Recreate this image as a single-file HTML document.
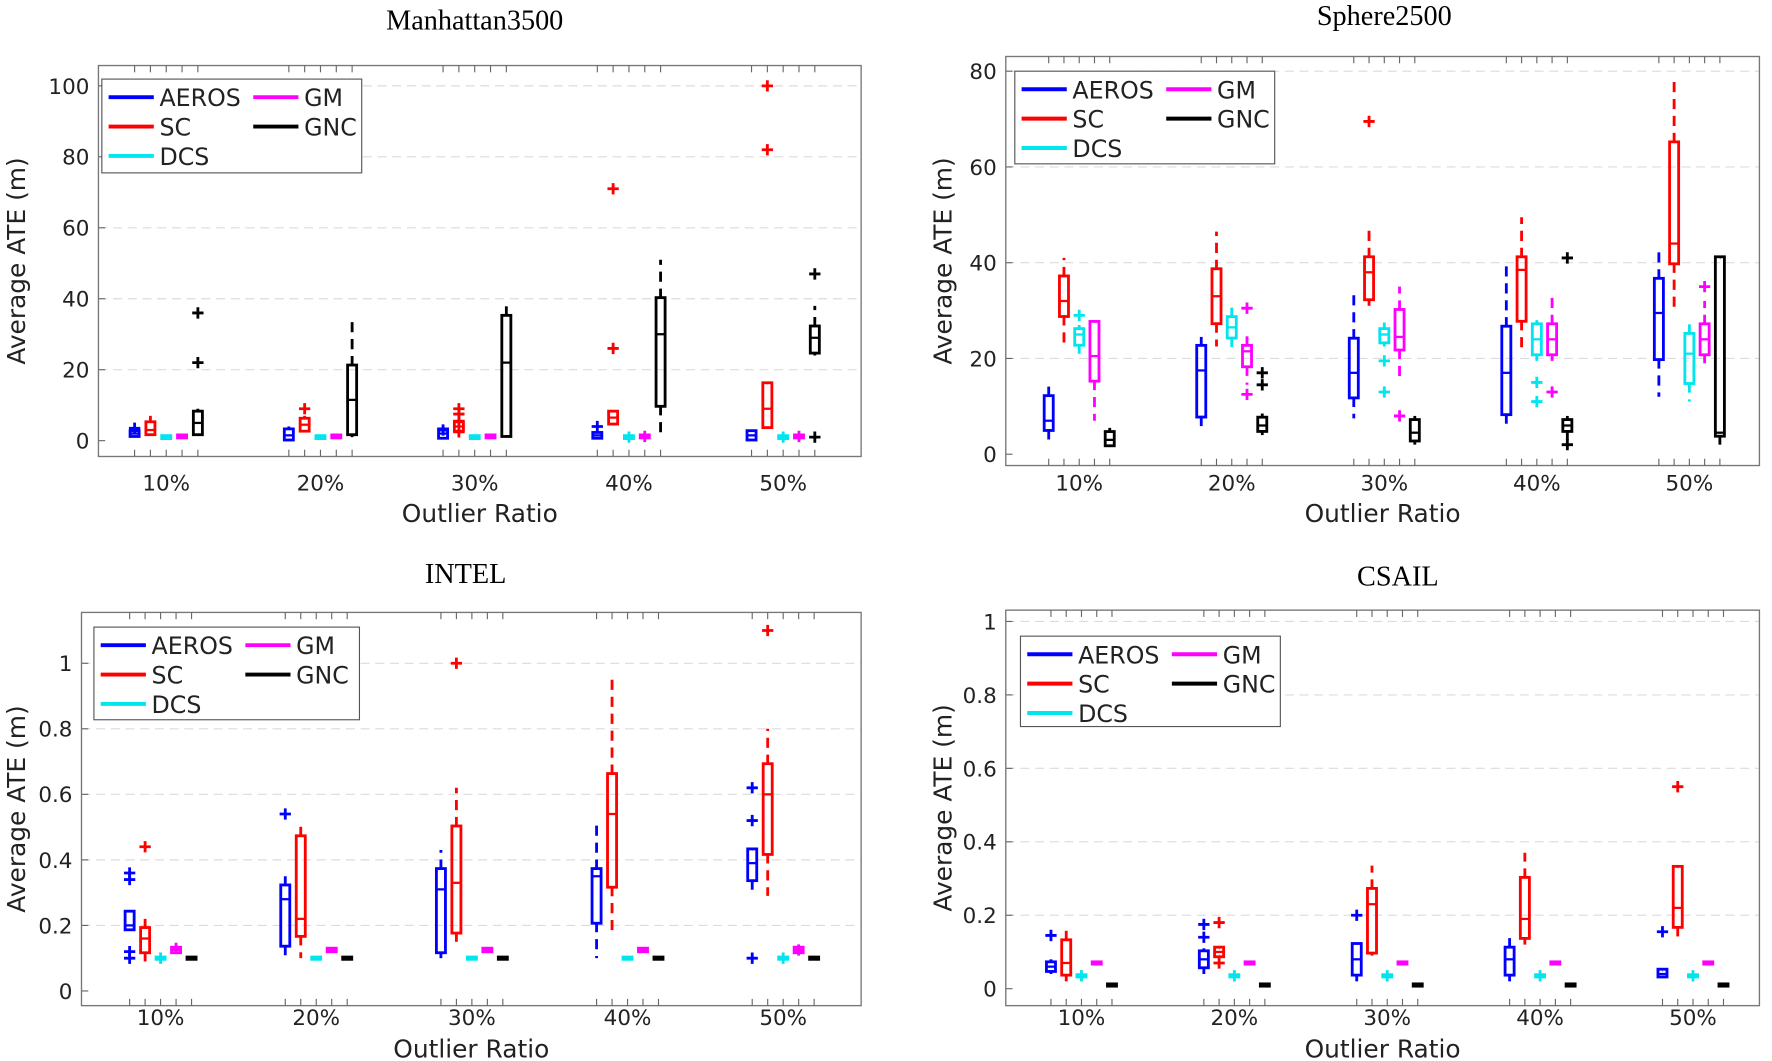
<!DOCTYPE html>
<html><head><meta charset="utf-8"><style>
html,body{margin:0;padding:0;background:#fff;}
svg{display:block;}
text{font-family:"DejaVu Sans","Liberation Sans",sans-serif;fill:#222;}
.ttl{font-family:"Liberation Serif",serif;fill:#000;}
</style></head><body>
<svg id="fig" width="1772" height="1061" viewBox="0 0 1568 939" xmlns="http://www.w3.org/2000/svg"></svg>
<script>
const categories = ["10%","20%","30%","40%","50%"];
const methods = ["AEROS","SC","DCS","GM","GNC"];
const colors = ["#0000ff","#ff0000","#00e5ee","#ff00ff","#000000"];

// Manhattan3500 [ratio][method]
const manLo  = [[1,1.5,0.8,1,1.5],[0,2.5,0.8,1,1],[0.8,2.5,0.8,1,1],[0.8,4.5,0.8,1,1],[0,3.5,0.8,1,24]];
const manQ1  = [[1.5,2,0.9,1.1,2],[0.5,3,0.9,1.1,2],[1,3,0.9,1.1,1.5],[1,5,0.9,1.1,10],[0.5,4,0.9,1.1,25]];
const manMed = [[2,3,1,1.2,5],[1.5,4.5,1,1.2,11.5],[2,4,1,1.2,22],[1.5,6.5,1,1.2,30],[1.5,9,1,1.2,29]];
const manQ3  = [[2.5,5,1.1,1.3,8],[3,6,1.1,1.3,21],[3,5,1.1,1.3,35],[2,8,1.1,1.3,40],[2.5,16,1.1,1.3,32]];
const manHi  = [[3,7,1.2,1.4,9],[4,7,1.2,1.4,35],[3.5,6,1.2,1.4,38.5],[2.5,8.5,1.2,1.4,51],[3,16,1.2,1.4,38]];
const manOut = [[[3.5],[],[],[],[36,22]],[[],[9],[],[],[]],[[3],[9,7.5,5.5,2.5],[],[],[]],[[4],[71,26],[1],[1.2],[]],[[],[100,82],[1],[1.2],[47,1]]];

// Sphere2500
const sphLo  = [[3,22.5,21,7,1.5],[5.5,22.5,21,14.5,4],[7.5,31,22.5,15.5,2],[5,21,19.5,19.5,3],[12,30,11,19,2]];
const sphQ1  = [[5.2,29,23,15.5,2],[8,27.5,24.5,18.5,5],[12,32.5,23.5,22,3],[8.5,28,21,21,5],[20,40,15,21,4]];
const sphMed = [[7,32,25,20.5,3],[17.5,33,26.5,21.5,6],[17,38,25,24.5,4.5],[17,38.5,24,24,6],[29.5,44,21,24,4.5]];
const sphQ3  = [[12,37,26,27.5,4.5],[22.5,38.5,28.5,22.5,7.5],[24,41,26,30,7],[26.5,41,27,27,7],[36.5,65,25,27,41]];
const sphHi  = [[15,41,27,28,5.5],[24.5,46.5,31.5,25.5,8.5],[34.5,47.5,27.5,35,8],[40.5,49.5,28,33,8],[43.5,79,28,32,41]];
const sphOut = [[[],[],[29],[],[]],[[],[],[],[30.5,12.5],[17,14.5]],[[],[69.5],[19.5,13],[8],[]],[[],[],[15,11],[13],[41,2]],[[],[],[],[35],[]]];

// INTEL
const intLo  = [[0.19,0.09,0.1,0.12,0.1],[0.1,0.1,0.1,0.123,0.1],[0.1,0.15,0.1,0.123,0.1],[0.1,0.18,0.1,0.123,0.1],[0.3,0.29,0.1,0.12,0.1]];
const intQ1  = [[0.19,0.12,0.1,0.12,0.1],[0.14,0.17,0.1,0.123,0.1],[0.12,0.18,0.1,0.123,0.1],[0.21,0.32,0.1,0.123,0.1],[0.34,0.42,0.1,0.12,0.1]];
const intMed = [[0.2,0.16,0.1,0.125,0.1],[0.28,0.22,0.1,0.125,0.1],[0.31,0.33,0.1,0.125,0.1],[0.35,0.54,0.1,0.125,0.1],[0.39,0.6,0.1,0.125,0.1]];
const intQ3  = [[0.24,0.19,0.1,0.13,0.1],[0.32,0.47,0.1,0.127,0.1],[0.37,0.5,0.1,0.127,0.1],[0.37,0.66,0.1,0.127,0.1],[0.43,0.69,0.1,0.13,0.1]];
const intHi  = [[0.24,0.22,0.1,0.13,0.1],[0.35,0.52,0.1,0.127,0.1],[0.43,0.62,0.1,0.127,0.1],[0.51,0.97,0.1,0.127,0.1],[0.43,0.8,0.1,0.13,0.1]];
const intOut = [[[0.36,0.34,0.12,0.1],[0.44],[0.1],[0.13],[]],[[0.54],[],[],[],[]],[[],[1.0],[],[],[]],[[],[],[],[],[]],[[0.62,0.52,0.1],[1.1],[0.1],[0.125],[]]];

// CSAIL
const csaLo  = [[0.04,0.02,0.035,0.07,0.01],[0.04,0.09,0.035,0.07,0.01],[0.02,0.09,0.035,0.07,0.01],[0.02,0.12,0.035,0.07,0.01],[0.03,0.14,0.035,0.07,0.01]];
const csaQ1  = [[0.05,0.04,0.035,0.07,0.01],[0.06,0.09,0.035,0.07,0.01],[0.04,0.1,0.035,0.07,0.01],[0.04,0.14,0.035,0.07,0.01],[0.035,0.17,0.035,0.07,0.01]];
const csaMed = [[0.06,0.07,0.035,0.07,0.01],[0.08,0.1,0.035,0.07,0.01],[0.08,0.23,0.035,0.07,0.01],[0.08,0.19,0.035,0.07,0.01],[0.04,0.22,0.035,0.07,0.01]];
const csaQ3  = [[0.07,0.13,0.035,0.07,0.01],[0.1,0.11,0.035,0.07,0.01],[0.12,0.27,0.035,0.07,0.01],[0.11,0.3,0.035,0.07,0.01],[0.05,0.33,0.035,0.07,0.01]];
const csaHi  = [[0.08,0.165,0.035,0.07,0.01],[0.11,0.11,0.035,0.07,0.01],[0.125,0.335,0.035,0.07,0.01],[0.145,0.37,0.035,0.07,0.01],[0.05,0.33,0.035,0.07,0.01]];
const csaOut = [[[0.145],[],[0.035],[],[]],[[0.175,0.14],[0.18,0.07],[0.035],[],[]],[[0.2],[],[0.035],[],[]],[[],[],[0.035],[],[]],[[0.155],[0.55],[0.035],[],[]]];

const manTicks = [0,20,40,60,80,100];
const sphTicks = [0,20,40,60,80];
const intTicks = [0,0.2,0.4,0.6,0.8,1];
const csaTicks = [0,0.2,0.4,0.6,0.8,1];

const panels = [
 {name:"manhattan3500",title:"Manhattan3500",tx:420,ty:26,L:87,R:762,T:58,B:404,y0:390,yMax:100,yMaxPx:76,c0:147,cs:136.5,off:14,
  lo:manLo,q1:manQ1,med:manMed,q3:manQ3,hi:manHi,out:manOut,ticks:manTicks,lg:{x:90,y:70,w:230,h:83},ylx:22,xly:434,xt:462},
 {name:"sphere2500",title:"Sphere2500",tx:1225,ty:22,L:890,R:1557,T:50,B:412,y0:402,yMax:80,yMaxPx:63,c0:955,cs:135,off:13.5,
  lo:sphLo,q1:sphQ1,med:sphMed,q3:sphQ3,hi:sphHi,out:sphOut,ticks:sphTicks,lg:{x:898,y:63,w:230,h:82},ylx:842,xly:434,xt:462},
 {name:"intel",title:"INTEL",tx:412,ty:516,L:72,R:762,T:542,B:890,y0:877,yMax:1,yMaxPx:587,c0:142,cs:137.75,off:13.7,
  lo:intLo,q1:intQ1,med:intMed,q3:intQ3,hi:intHi,out:intOut,ticks:intTicks,lg:{x:83,y:555,w:235,h:82},ylx:22,xly:907,xt:936},
 {name:"csail",title:"CSAIL",tx:1237,ty:518,L:890,R:1557,T:540,B:890,y0:875,yMax:1,yMaxPx:550,c0:957,cs:135.3,off:13.5,
  lo:csaLo,q1:csaQ1,med:csaMed,q3:csaQ3,hi:csaHi,out:csaOut,ticks:csaTicks,lg:{x:903,y:563,w:230,h:80},ylx:842,xly:907,xt:936}
];

const NS="http://www.w3.org/2000/svg";
const svg=document.getElementById("fig");
function mk(tag,attrs,parent){const e=document.createElementNS(NS,tag);for(const k in attrs)e.setAttribute(k,attrs[k]);(parent||svg).appendChild(e);return e;}

panels.forEach(p=>{
  const g=mk("g",{});
  
  
  const yS=v=>p.y0-(v/p.yMax)*(p.y0-p.yMaxPx);
  const xS=(ci,mi)=>p.c0+ci*p.cs+(mi-2)*p.off;
  const t=mk("text",{x:p.tx,y:p.ty,"text-anchor":"middle","font-size":25,class:"ttl"},g);t.textContent=p.title;
  
  
  p.ticks.forEach(v=>{
    const y=yS(v);
    if(v!==0){const gl=mk("line",{x1:p.L,x2:p.R,y1:y,y2:y,stroke:"#dcdcdc","stroke-width":1,"stroke-dasharray":"8,5"},g);
      }
    mk("line",{x1:p.L,x2:p.L+6,y1:y,y2:y,stroke:"#666","stroke-width":1},g);
    const tl=mk("text",{x:p.L-8,y:y+7,"text-anchor":"end","font-size":19},g);tl.textContent=String(v);
    
  });
  const fr=mk("rect",{x:p.L,y:p.T,width:p.R-p.L,height:p.B-p.T,fill:"none",stroke:"#777","stroke-width":1.2},g);
  
  categories.forEach((c,ci)=>{
    for(let mi=0;mi<5;mi++){const x=xS(ci,mi);mk("line",{x1:x,x2:x,y1:p.T,y2:p.T+6,stroke:"#666","stroke-width":1},g);mk("line",{x1:x,x2:x,y1:p.B,y2:p.B-6,stroke:"#666","stroke-width":1},g);}
    const xl=mk("text",{x:p.c0+ci*p.cs,y:p.xly,"text-anchor":"middle","font-size":19},g);xl.textContent=c;
    
  });
  const xt=mk("text",{x:(p.L+p.R)/2,y:p.xt,"text-anchor":"middle","font-size":22},g);xt.textContent="Outlier Ratio";
  
  const yt=mk("text",{x:0,y:0,"text-anchor":"middle","font-size":22,transform:`translate(${p.ylx},${(p.T+p.B)/2}) rotate(-90)`},g);yt.textContent="Average ATE (m)";
  
  categories.forEach((c,ci)=>{
    methods.forEach((m,mi)=>{
      const x=xS(ci,mi),col=colors[mi],hw=4;
      const bg=mk("g",{},g);
      
      
      const yq1=yS(p.q1[ci][mi]),yq3=yS(p.q3[ci][mi]),ym=yS(p.med[ci][mi]),ylo=yS(p.lo[ci][mi]),yhi=yS(p.hi[ci][mi]);
      mk("line",{x1:x,x2:x,y1:yq3,y2:yhi,stroke:col,"stroke-width":2.5,"stroke-dasharray":"9,6"},bg);
      mk("line",{x1:x,x2:x,y1:yq1,y2:ylo,stroke:col,"stroke-width":2.5,"stroke-dasharray":"9,6"},bg);
      mk("rect",{x:x-hw,y:Math.min(yq1,yq3)-1,width:hw*2,height:Math.abs(yq1-yq3)+2,fill:"none",stroke:col,"stroke-width":2.5},bg);
      mk("line",{x1:x-hw,x2:x+hw,y1:ym,y2:ym,stroke:col,"stroke-width":2},bg);
      p.out[ci][mi].forEach(v=>{
        const y=yS(v);
        const o=mk("path",{d:`M${x-5},${y}H${x+5}M${x},${y-5}V${y+5}`,stroke:col,"stroke-width":2.5,fill:"none"},bg);
        
        
      });
    });
  });
  const lg=p.lg;
  const lgG=mk("g",{},g);
  
  
  mk("rect",{x:lg.x,y:lg.y,width:lg.w,height:lg.h,fill:"#fff",stroke:"#555","stroke-width":1},lgG);
  const pos=[[0,0],[0,1],[0,2],[1,0],[1,1]];
  [0,1,2,3,4].forEach((mi,k)=>{
    const [cx,ry]=pos[k];
    const bx=lg.x+6+cx*128, by=lg.y+16+ry*26;
    const e=mk("g",{},lgG);
    
    
    mk("line",{x1:bx,x2:bx+40,y1:by,y2:by,stroke:colors[mi],"stroke-width":3.5},e);
    const tt=mk("text",{x:bx+45,y:by+8,"font-size":21,fill:"#000"},e);tt.textContent=methods[mi];
  });
});
</script>
</body></html>
